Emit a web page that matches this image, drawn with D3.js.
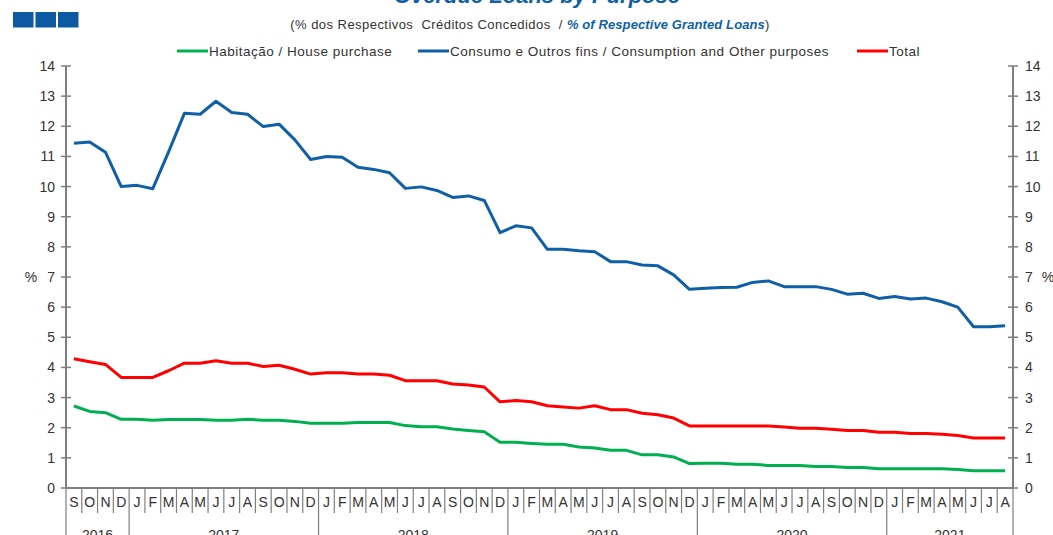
<!DOCTYPE html>
<html>
<head>
<meta charset="utf-8">
<script src="https://cdn.jsdelivr.net/npm/d3@7"></script>
<style>
  html, body { margin: 0; padding: 0; background: #fff; }
  svg { display: block; font-family: "Liberation Sans", Arial, sans-serif; }
</style>
</head>
<body>
<svg id="chart" width="1053" height="535"></svg>
<script>
// ---------------- DATA ----------------
const months = ["S","O","N","D",
  "J","F","M","A","M","J","J","A","S","O","N","D",
  "J","F","M","A","M","J","J","A","S","O","N","D",
  "J","F","M","A","M","J","J","A","S","O","N","D",
  "J","F","M","A","M","J","J","A","S","O","N","D",
  "J","F","M","A","M","J","J","A"];
const yearLabels = ["2016","2017","2018","2019","2020","2021"];
const yearCounts = [4, 12, 12, 12, 12, 8];

const housing = [2.72,2.54,2.50,2.28,
  2.28,2.25,2.27,2.27,2.27,2.25,2.25,2.28,2.25,2.25,2.21,2.15,
  2.15,2.15,2.17,2.17,2.17,2.07,2.03,2.03,1.96,1.91,1.87,1.52,
  1.52,1.48,1.45,1.45,1.36,1.33,1.25,1.25,1.10,1.10,1.03,0.81,
  0.82,0.82,0.79,0.79,0.75,0.75,0.75,0.71,0.71,0.68,0.68,0.64,
  0.64,0.64,0.64,0.64,0.61,0.57,0.57,0.57];
const consumption = [11.44,11.48,11.14,10.00,
  10.04,9.93,11.15,12.43,12.40,12.83,12.46,12.40,11.99,12.07,11.55,10.90,
  11.00,10.97,10.64,10.57,10.46,9.94,9.99,9.87,9.64,9.69,9.54,8.47,
  8.70,8.63,7.92,7.92,7.87,7.84,7.51,7.51,7.40,7.37,7.07,6.59,
  6.63,6.65,6.66,6.82,6.87,6.68,6.68,6.68,6.59,6.43,6.46,6.29,
  6.35,6.27,6.30,6.18,6.00,5.35,5.35,5.38];
const total = [4.29,4.19,4.10,3.67,
  3.67,3.67,3.89,4.14,4.14,4.22,4.14,4.14,4.03,4.07,3.94,3.78,
  3.82,3.82,3.78,3.78,3.74,3.56,3.56,3.56,3.45,3.42,3.35,2.86,
  2.90,2.86,2.73,2.69,2.65,2.73,2.60,2.60,2.48,2.43,2.32,2.06,
  2.06,2.06,2.06,2.06,2.06,2.02,1.98,1.98,1.95,1.91,1.91,1.85,
  1.85,1.81,1.81,1.78,1.74,1.66,1.66,1.66];
const yTicks = [0,1,2,3,4,5,6,7,8,9,10,11,12,13,14];

const seriesNames = ["Habitação / House purchase",
  "Consumo e Outros fins / Consumption and Other purposes", "Total"];
const seriesColors = ["#00b050", "#0f5fa6", "#ff0000"];
const seriesData = [housing, consumption, total];

(function () {
// ---------------- LAYOUT ----------------
const svg = d3.select("#chart");
const mLeft = 66, mRight = 1013, mTop = 66, mBottom = 488;
const axisColor = "#7f7f7f";
const textColor = "#333333";

const idx = d3.range(months.length);
const x = d3.scaleBand().domain(idx).range([mLeft, mRight]).padding(0);
const y = d3.scaleLinear().domain([0, 14]).range([mBottom, mTop]);

// Title (mostly cut off at top in reference)
svg.append("text")
  .attr("x", 537).attr("y", 3)
  .attr("text-anchor", "middle")
  .attr("font-size", 22).attr("font-weight", "bold").attr("font-style", "italic")
  .attr("fill", "#0f5fa6")
  .text("Overdue Loans by Purpose");

// Logo squares
svg.append("g").selectAll("rect").data([0,1,2]).join("rect")
  .attr("x", d => 13 + d * 22.5).attr("y", 12)
  .attr("width", 20.5).attr("height", 15.5)
  .attr("fill", "#0d5aa3");

// Subtitle
const sub = svg.append("text")
  .attr("x", 530).attr("y", 29)
  .attr("text-anchor", "middle")
  .attr("font-size", 13)
  .attr("letter-spacing", 0.45)
  .style("white-space", "pre");
sub.append("tspan").attr("fill", textColor).text("(% dos Respectivos  Créditos Concedidos  / ");
sub.append("tspan").attr("fill", "#0f5fa6").attr("font-weight", "bold").attr("font-style", "italic")
  .attr("letter-spacing", 0.1)
  .text("% of Respective Granted Loans");
sub.append("tspan").attr("fill", textColor).text(")");

// Legend
const legendX = [177, 418, 857];
const lg = svg.append("g");
seriesNames.forEach((name, i) => {
  lg.append("line")
    .attr("x1", legendX[i]).attr("x2", legendX[i] + 31)
    .attr("y1", 51).attr("y2", 51)
    .attr("stroke", seriesColors[i]).attr("stroke-width", 3);
  lg.append("text")
    .attr("x", legendX[i] + 32).attr("y", 56)
    .attr("font-size", 13.5).attr("letter-spacing", 0.5).attr("fill", textColor)
    .text(name);
});

// Y axes (left and right), ticks crossing the axis line
function drawYAxis(xPos, side) {
  const g = svg.append("g");
  g.append("line")
    .attr("x1", xPos).attr("x2", xPos)
    .attr("y1", y(14)).attr("y2", y(0))
    .attr("stroke", axisColor).attr("stroke-width", 2);
  g.selectAll("line.tick").data(yTicks).join("line")
    .attr("class", "tick")
    .attr("x1", xPos - 5).attr("x2", xPos + 5)
    .attr("y1", d => y(d)).attr("y2", d => y(d))
    .attr("stroke", axisColor).attr("stroke-width", 1.5);
  g.selectAll("text").data(yTicks).join("text")
    .attr("x", side === "left" ? xPos - 11 : xPos + 12)
    .attr("y", d => y(d) + 5)
    .attr("text-anchor", side === "left" ? "end" : "start")
    .attr("font-size", 14).attr("fill", textColor)
    .text(d => d);
}
drawYAxis(mLeft, "left");
drawYAxis(mRight, "right");

svg.append("text").attr("x", 31).attr("y", y(7) + 5).attr("text-anchor", "middle")
  .attr("font-size", 14).attr("fill", textColor).text("%");
svg.append("text").attr("x", 1048).attr("y", y(7) + 5).attr("text-anchor", "middle")
  .attr("font-size", 14).attr("fill", textColor).text("%");

// X axis
const xg = svg.append("g");
xg.append("line")
  .attr("x1", mLeft).attr("x2", mRight)
  .attr("y1", mBottom).attr("y2", mBottom)
  .attr("stroke", axisColor).attr("stroke-width", 2);

const yearStart = [];
let acc = 0;
yearCounts.forEach(c => { yearStart.push(acc); acc += c; });
const yearBoundaryIdx = new Set(yearStart);

xg.selectAll("line.sep").data(d3.range(months.length + 1)).join("line")
  .attr("class", "sep")
  .attr("x1", d => d < months.length ? x(d) : mRight)
  .attr("x2", d => d < months.length ? x(d) : mRight)
  .attr("y1", mBottom)
  .attr("y2", d => (yearBoundaryIdx.has(d) || d === months.length) ? 535 : 513)
  .attr("stroke", axisColor).attr("stroke-width", 1.2);

xg.selectAll("text.month").data(idx).join("text")
  .attr("class", "month")
  .attr("x", d => x(d) + x.bandwidth() / 2)
  .attr("y", 507)
  .attr("text-anchor", "middle")
  .attr("font-size", 14).attr("fill", textColor)
  .text(d => months[d]);

xg.selectAll("text.year").data(yearLabels).join("text")
  .attr("class", "year")
  .attr("x", (d, i) => x(yearStart[i]) + x.bandwidth() * yearCounts[i] / 2)
  .attr("y", 540)
  .attr("text-anchor", "middle")
  .attr("font-size", 14).attr("fill", textColor)
  .text(d => d);

// Lines
const line = d3.line()
  .x((d, i) => x(i) + x.bandwidth() / 2)
  .y(d => y(d));

seriesData.forEach((data, i) => {
  svg.append("path")
    .datum(data)
    .attr("fill", "none")
    .attr("stroke", seriesColors[i])
    .attr("stroke-width", 3)
    .attr("stroke-linejoin", "round")
    .attr("d", line);
});
})();
</script>
</body>
</html>
